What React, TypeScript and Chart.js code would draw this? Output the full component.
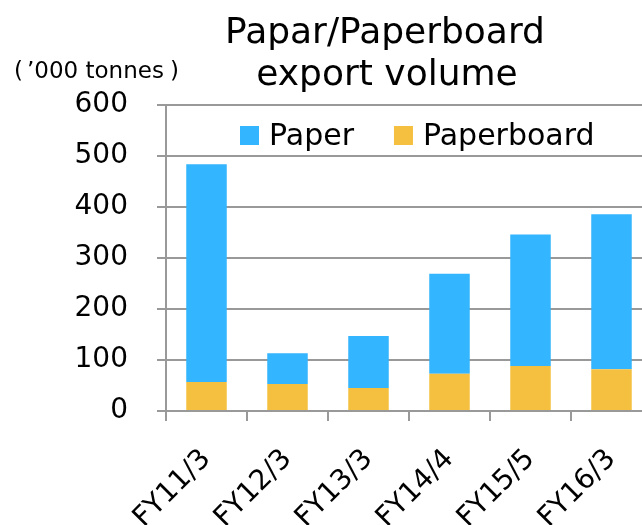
import React, { useEffect, useRef } from "react";
import { Chart, registerables } from "chart.js";

Chart.register(...registerables);

const categories = ["FY11/3", "FY12/3", "FY13/3", "FY14/4", "FY15/5", "FY16/3"];
const paper = [427, 60, 102, 196, 258, 304];
const paperboard = [57, 53, 45, 73, 88, 82];
const yMin = 0;
const yMax = 600;
const yStep = 100;
const titleLines = ["Papar/Paperboard", "export volume"];
const unitLabel = "’000 tonnes";

const BLUE = "#33b5ff";
const ORANGE = "#f5c040";
const GRID = "#999999";
const FONT = '"DejaVu Sans", "Noto Sans CJK JP", sans-serif';

const overlay = {
  id: "overlay",
  afterDraw(chart: any) {
    const ctx = chart.ctx;
    ctx.save();
    ctx.fillStyle = "#000";
    ctx.textBaseline = "alphabetic";
    // title
    ctx.font = `36px ${FONT}`;
    ctx.textAlign = "center";
    ctx.fillText(titleLines[0], 385, 43);
    ctx.fillText(titleLines[1], 387, 85);
    // unit label with wide parentheses
    ctx.font = `23px ${FONT}`;
    ctx.textAlign = "left";
    ctx.fillText("(", 14, 78);
    ctx.fillText(unitLabel, 27, 78);
    const w = ctx.measureText(unitLabel).width;
    ctx.fillText(")", 27 + w + 6, 78);
    // legend (inside plot), Paper first
    ctx.font = `30px ${FONT}`;
    let x = 240;
    const ds = chart.data.datasets.slice().reverse();
    for (const d of ds) {
      ctx.fillStyle = d.backgroundColor;
      ctx.fillRect(x, 126, 19, 19);
      ctx.fillStyle = "#000";
      ctx.fillText(d.label, x + 29, 145);
      x += 29 + ctx.measureText(d.label).width + 40;
    }
    ctx.restore();
  },
};

export default function App() {
  const ref = useRef<HTMLCanvasElement>(null);
  useEffect(() => {
    if (!ref.current) return;
    const chart = new Chart(ref.current, {
      type: "bar",
      data: {
        labels: categories,
        datasets: [
          {
            label: "Paperboard",
            data: paperboard,
            backgroundColor: ORANGE,
            barPercentage: 0.5,
            categoryPercentage: 1,
          },
          {
            label: "Paper",
            data: paper,
            backgroundColor: BLUE,
            barPercentage: 0.5,
            categoryPercentage: 1,
          },
        ],
      },
      options: {
        responsive: false,
        animation: false,
        layout: { padding: { top: 105, right: 8, left: 0, bottom: 0 } },
        plugins: {
          legend: { display: false },
          title: { display: false },
          tooltip: { enabled: false },
        },
        scales: {
          x: {
            stacked: true,
            grid: {
              drawOnChartArea: false,
              drawTicks: true,
              tickLength: 10,
              color: GRID,
              lineWidth: 2,
              offset: true,
            },
            border: { color: GRID, width: 2 },
            ticks: {
              minRotation: 45,
              maxRotation: 45,
              font: { family: FONT, size: 28 },
              color: "#000",
              padding: 22,
            },
            afterFit: (s: any) => {
              s.height = 114;
            },
          },
          y: {
            stacked: true,
            min: yMin,
            max: yMax,
            ticks: {
              stepSize: yStep,
              font: { family: FONT, size: 28 },
              color: "#000",
              padding: 29,
            },
            grid: { color: GRID, lineWidth: 2, tickLength: 9 },
            border: { color: GRID, width: 2 },
            afterFit: (s: any) => {
              s.width = 166;
            },
          },
        },
      },
      plugins: [overlay],
    });
    return () => chart.destroy();
  }, []);
  return (
    <div
      style={{
        position: "fixed",
        left: 0,
        top: 0,
        width: 642,
        height: 525,
        overflow: "hidden",
        background: "#fff",
      }}
    >
      <canvas ref={ref} width={660} height={525} style={{ display: "block" }} />
    </div>
  );
}
